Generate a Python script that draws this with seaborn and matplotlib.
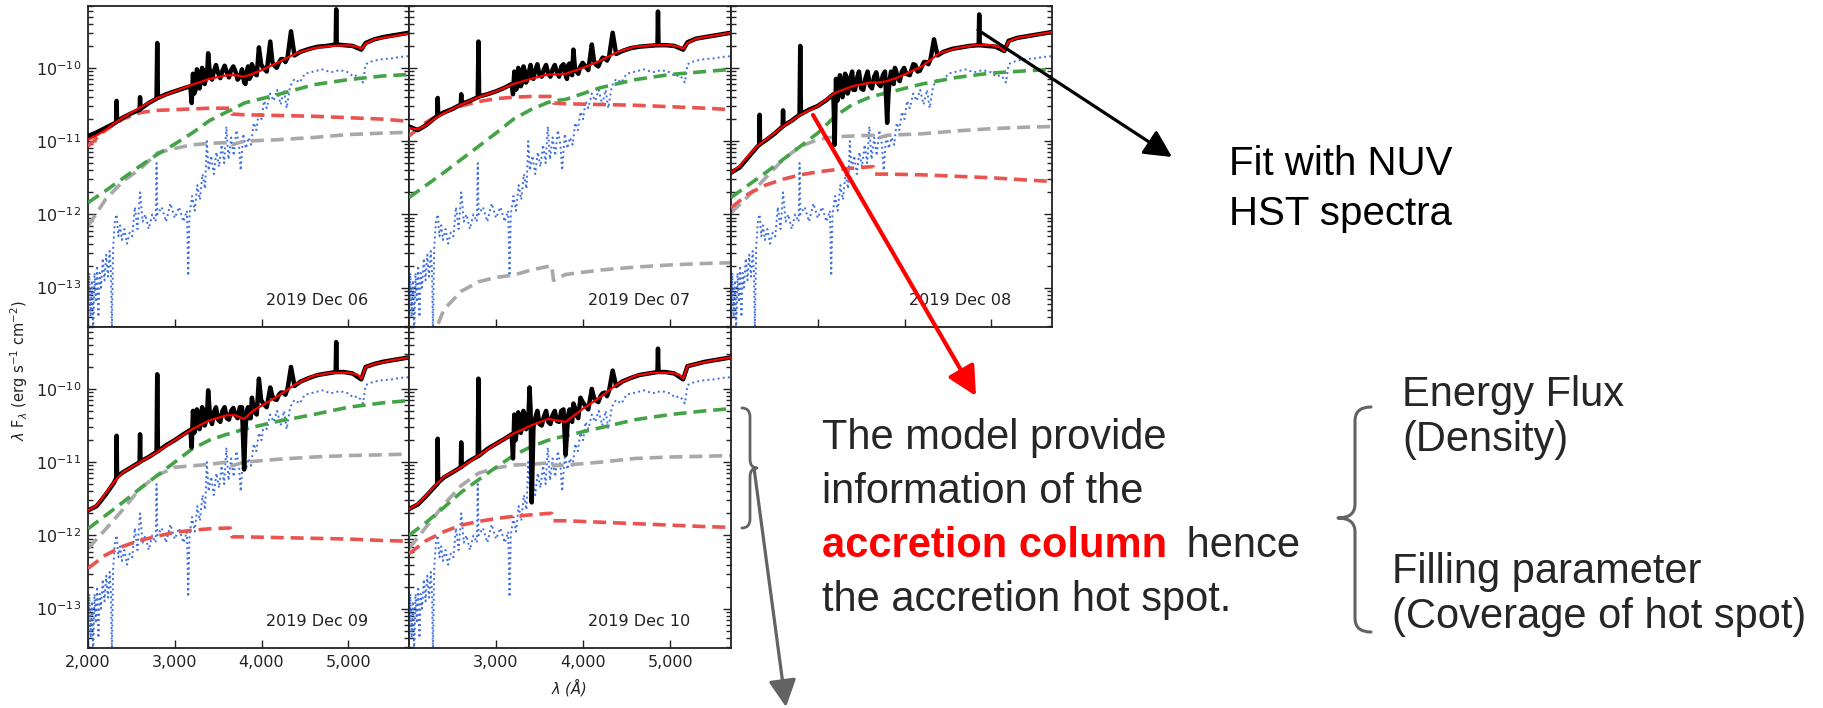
import numpy as np
import matplotlib
matplotlib.use("Agg")
import matplotlib.pyplot as plt
from matplotlib.path import Path
from matplotlib.patches import PathPatch
from matplotlib.ticker import LogLocator, FuncFormatter, NullFormatter, FixedLocator
import seaborn as sns

# ---------------- data (log10 of lambda*F_lambda) ----------------
dates = ["2019 Dec 06", "2019 Dec 07", "2019 Dec 08", "2019 Dec 09", "2019 Dec 10"]

lam_obs = [2000, 2100, 2200, 2300, 2325, 2330, 2335, 2400, 2500, 2595, 2600,
           2605, 2700, 2790, 2798, 2806, 2900, 3000, 3100, 3180, 3195, 3210,
           3240, 3270, 3300, 3330, 3360, 3385, 3410, 3450, 3500, 3550, 3600,
           3650, 3700, 3750, 3800, 3830, 3860, 3889, 3920, 3970, 4020, 4101,
           4150, 4200, 4250, 4300, 4340, 4380, 4450, 4550, 4650, 4750, 4855,
           4861, 4867, 4950, 5050, 5150, 5200, 5300, 5400, 5500, 5600, 5700]

obs_06 = [-10.93, -10.88, -10.82, -10.76, -10.74, -10.45, -10.73, -10.68, -10.62, -10.57, -10.40,
          -10.56, -10.48, -10.42, -9.66, -10.41, -10.36, -10.32, -10.28, -10.25, -10.48, -10.08,
          -10.30, -10.06, -10.18, -10.05, -10.14, -9.80, -10.10, -10.05, -10.07, -10.04, -10.06,
          -10.03, -10.05, -10.12, -10.20, -10.05, -10.15, -9.95, -10.08, -9.72, -10.00, -9.64,
          -9.97, -9.93, -9.88, -9.86, -9.50, -9.83, -9.78, -9.74, -9.71, -9.70, -9.68,
          -9.20, -9.68, -9.69, -9.70, -9.75, -9.66, -9.61, -9.58, -9.56, -9.54, -9.52]
obs_07 = [-10.80, -10.85, -10.78, -10.68, -10.66, -10.41, -10.65, -10.61, -10.56, -10.50, -10.36,
          -10.49, -10.45, -10.40, -9.64, -10.39, -10.36, -10.32, -10.27, -10.22, -10.36, -10.05,
          -10.28, -10.06, -10.20, -10.04, -10.16, -10.02, -10.12, -10.03, -10.10, -10.02, -10.08,
          -10.02, -10.06, -9.98, -10.10, -9.96, -10.08, -9.75, -10.04, -9.98, -9.97, -9.68,
          -9.96, -9.91, -9.87, -9.84, -9.52, -9.81, -9.77, -9.73, -9.71, -9.70, -9.69,
          -9.23, -9.69, -9.69, -9.70, -9.75, -9.65, -9.60, -9.58, -9.56, -9.54, -9.52]
obs_08 = [-11.43, -11.36, -11.22, -11.08, -11.05, -10.64, -11.04, -10.99, -10.90, -10.80, -10.58,
          -10.79, -10.72, -10.64, -9.70, -10.63, -10.57, -10.52, -10.44, -10.36, -11.05, -10.15,
          -10.35, -10.18, -10.30, -10.12, -10.28, -10.10, -10.30, -10.15, -10.28, -10.14, -10.24,
          -10.12, -10.22, -10.10, -10.75, -10.15, -10.20, -10.00, -10.14, -10.05, -10.08, -9.95,
          -10.05, -9.98, -9.92, -9.88, -9.61, -9.83, -9.78, -9.74, -9.72, -9.70, -9.69,
          -9.27, -9.69, -9.70, -9.71, -9.77, -9.63, -9.59, -9.57, -9.55, -9.53, -9.51]
obs_09 = [-11.66, -11.60, -11.45, -11.28, -11.22, -10.64, -11.20, -11.14, -11.07, -11.00, -10.62,
          -10.99, -10.93, -10.86, -9.80, -10.85, -10.77, -10.70, -10.62, -10.56, -10.80, -10.30,
          -10.52, -10.32, -10.48, -10.30, -10.44, -10.02, -10.42, -10.32, -10.42, -10.30, -10.40,
          -10.30, -10.36, -10.25, -11.10, -10.30, -10.40, -10.12, -10.32, -9.86, -10.20, -9.98,
          -10.14, -10.08, -10.05, -10.00, -9.70, -9.96, -9.90, -9.85, -9.81, -9.79, -9.77,
          -9.36, -9.77, -9.77, -9.79, -9.87, -9.70, -9.66, -9.63, -9.61, -9.59, -9.57]
obs_10 = [-11.64, -11.58, -11.46, -11.33, -11.30, -10.68, -11.28, -11.21, -11.14, -11.07, -10.73,
          -11.06, -10.98, -10.92, -9.86, -10.91, -10.82, -10.75, -10.68, -10.62, -10.95, -10.35,
          -10.55, -10.38, -10.52, -10.36, -10.50, -9.98, -11.55, -10.40, -10.48, -10.38, -10.45,
          -10.36, -10.44, -10.30, -10.90, -10.35, -10.42, -10.20, -10.35, -10.12, -10.22, -10.00,
          -10.16, -10.10, -10.05, -10.02, -9.75, -9.96, -9.90, -9.85, -9.81, -9.79, -9.77,
          -9.45, -9.77, -9.77, -9.79, -9.87, -9.69, -9.66, -9.63, -9.61, -9.59, -9.57]

# extra samples of the noisy 3200-4300 A part of the observed spectra
lam_fill = [3225, 3255, 3285, 3315, 3345, 3372, 3397, 3430, 3475, 3525, 3575, 3625, 3675,
            3725, 3775, 3815, 3845, 3875, 3905, 3945, 3995, 4060, 4125, 4175, 4225, 4275]
fill_06 = [-10.35, -10.02, -10.28, -10.00, -10.22, -10.12, -9.98, -10.16, -9.96, -10.14, -9.97, -10.13, -9.98,
           -10.16, -10.02, -10.22, -9.98, -10.12, -10.00, -10.10, -9.95, -10.05, -9.92, -10.00, -9.88, -9.92]
fill_07 = [-10.30, -10.00, -10.25, -9.98, -10.20, -10.10, -9.96, -10.15, -9.95, -10.12, -9.96, -10.12, -9.96,
           -10.12, -9.95, -10.15, -9.94, -10.10, -9.98, -10.08, -9.93, -10.03, -9.90, -9.98, -9.86, -9.90]
fill_08 = [-10.45, -10.10, -10.40, -10.08, -10.35, -10.20, -10.05, -10.30, -10.05, -10.30, -10.05, -10.28, -10.06,
           -10.25, -10.05, -10.35, -10.05, -10.22, -10.05, -10.18, -10.00, -10.10, -9.96, -10.04, -9.92, -9.95]
fill_09 = [-10.60, -10.28, -10.55, -10.25, -10.50, -10.35, -10.22, -10.48, -10.25, -10.45, -10.25, -10.42, -10.26,
           -10.40, -10.25, -10.55, -10.25, -10.40, -10.22, -10.35, -10.15, -10.25, -10.10, -10.15, -10.05, -10.08]
fill_10 = [-10.70, -10.32, -10.60, -10.30, -10.55, -10.40, -10.28, -10.52, -10.30, -10.50, -10.30, -10.48, -10.30,
           -10.45, -10.28, -10.60, -10.28, -10.45, -10.25, -10.40, -10.18, -10.28, -10.12, -10.18, -10.06, -10.10]

lam_tot = [2000, 2100, 2200, 2300, 2400, 2600, 2800, 3000, 3200, 3400, 3600, 3700, 3800,
           3900, 4000, 4200, 4400, 4600, 4800, 5000, 5100, 5150, 5200, 5300, 5500, 5700]
tot_06 = [-10.98, -10.92, -10.85, -10.76, -10.68, -10.54, -10.41, -10.32, -10.23, -10.15, -10.10, -10.10, -10.12,
          -10.08, -10.03, -9.92, -9.80, -9.73, -9.70, -9.69, -9.71, -9.74, -9.67, -9.61, -9.57, -9.53]
tot_07 = [-10.82, -10.84, -10.78, -10.69, -10.62, -10.50, -10.40, -10.32, -10.22, -10.15, -10.09, -10.09, -10.08,
          -10.04, -10.00, -9.90, -9.78, -9.71, -9.69, -9.69, -9.71, -9.74, -9.66, -9.60, -9.56, -9.52]
tot_08 = [-11.43, -11.34, -11.20, -11.07, -10.98, -10.80, -10.64, -10.52, -10.34, -10.25, -10.20, -10.20, -10.18,
          -10.14, -10.09, -9.98, -9.80, -9.73, -9.69, -9.69, -9.72, -9.77, -9.64, -9.59, -9.55, -9.51]
tot_09 = [-11.66, -11.59, -11.43, -11.27, -11.14, -11.00, -10.86, -10.70, -10.55, -10.43, -10.36, -10.36, -10.41,
          -10.30, -10.23, -10.09, -9.93, -9.82, -9.78, -9.78, -9.80, -9.86, -9.70, -9.66, -9.61, -9.57]
tot_10 = [-11.64, -11.57, -11.45, -11.32, -11.20, -11.07, -10.91, -10.75, -10.61, -10.50, -10.41, -10.43, -10.45,
          -10.36, -10.27, -10.11, -9.93, -9.82, -9.78, -9.78, -9.80, -9.86, -9.69, -9.66, -9.61, -9.57]

lam_dash = [2000, 2200, 2400, 2600, 2800, 3000, 3200, 3400, 3600, 3640, 3660, 3800, 4200, 4600, 5000, 5400, 5700]
hot_06 = [-11.07, -10.85, -10.70, -10.61, -10.58, -10.57, -10.56, -10.55, -10.55, -10.55, -10.63, -10.64, -10.65, -10.66, -10.68, -10.70, -10.73]
hot_07 = [-10.93, -10.74, -10.60, -10.52, -10.46, -10.42, -10.40, -10.39, -10.39, -10.39, -10.48, -10.49, -10.50, -10.51, -10.53, -10.55, -10.57]
hot_08 = [-11.91, -11.72, -11.60, -11.52, -11.46, -11.42, -11.39, -11.37, -11.35, -11.35, -11.45, -11.45, -11.46, -11.48, -11.50, -11.53, -11.55]
hot_09 = [-12.45, -12.27, -12.15, -12.07, -12.01, -11.96, -11.93, -11.91, -11.90, -11.90, -12.02, -12.02, -12.03, -12.04, -12.05, -12.07, -12.08]
hot_10 = [-12.25, -12.07, -11.95, -11.86, -11.81, -11.77, -11.74, -11.72, -11.70, -11.70, -11.80, -11.80, -11.82, -11.84, -11.86, -11.88, -11.89]

green_06 = [-11.84, -11.68, -11.51, -11.34, -11.18, -11.04, -10.89, -10.72, -10.60, -10.58, -10.57, -10.48, -10.36, -10.23, -10.16, -10.11, -10.09]
green_07 = [-11.77, -11.60, -11.43, -11.25, -11.07, -10.89, -10.70, -10.57, -10.47, -10.46, -10.45, -10.43, -10.27, -10.16, -10.09, -10.05, -10.02]
green_08 = [-11.77, -11.60, -11.43, -11.25, -11.07, -10.89, -10.66, -10.50, -10.40, -10.39, -10.38, -10.34, -10.22, -10.13, -10.07, -10.04, -10.02]
green_09 = [-11.91, -11.73, -11.55, -11.36, -11.18, -11.00, -10.82, -10.70, -10.62, -10.61, -10.60, -10.55, -10.44, -10.35, -10.25, -10.19, -10.16]
green_10 = [-12.00, -11.82, -11.62, -11.41, -11.24, -11.07, -10.91, -10.79, -10.70, -10.69, -10.68, -10.64, -10.53, -10.42, -10.35, -10.30, -10.27]

gray_06 = [-12.16, -11.80, -11.55, -11.38, -11.16, -11.10, -11.05, -11.03, -11.02, -11.01, -11.05, -11.00, -10.98, -10.95, -10.91, -10.89, -10.88]
gray_07 = [-14.50, -13.90, -13.30, -13.05, -12.92, -12.86, -12.83, -12.76, -12.71, -12.70, -12.90, -12.82, -12.76, -12.72, -12.69, -12.67, -12.66]
gray_08 = [-11.98, -11.75, -11.50, -11.25, -11.07, -10.98, -10.94, -10.93, -10.92, -10.92, -10.97, -10.92, -10.90, -10.86, -10.83, -10.81, -10.80]
gray_09 = [-12.18, -11.92, -11.65, -11.36, -11.18, -11.07, -11.05, -11.03, -11.00, -11.00, -11.05, -11.00, -10.96, -10.93, -10.91, -10.90, -10.89]
gray_10 = [-12.18, -11.88, -11.58, -11.32, -11.15, -11.08, -11.04, -11.03, -11.01, -11.00, -11.05, -11.04, -11.00, -10.95, -10.93, -10.92, -10.91]

blue_lam = [2000, 2015, 2030, 2045, 2060, 2075, 2090, 2105, 2120, 2135,
            2150, 2170, 2190, 2210, 2230, 2250, 2265, 2275, 2290, 2310,
            2330, 2350, 2370, 2390, 2420, 2450, 2480, 2510, 2540, 2570,
            2600, 2630, 2660, 2700, 2740, 2780, 2790, 2800, 2850, 2900,
            2950, 3000, 3050, 3100, 3140, 3155, 3170, 3200, 3230, 3260,
            3290, 3320, 3350, 3370, 3390, 3420, 3450, 3480, 3510, 3540,
            3570, 3595, 3620, 3650, 3680, 3710, 3740, 3760, 3790, 3820,
            3850, 3880, 3910, 3940, 3970, 4000, 4030, 4060, 4100, 4140,
            4180, 4220, 4260, 4290, 4330, 4380, 4440, 4500, 4600, 4700,
            4800, 4900, 5000, 5060, 5100, 5140, 5170, 5200, 5250, 5300,
            5400, 5500, 5600, 5700]
blue_log = [-13.5, -12.8, -13.4, -12.9, -13.6, -12.8, -13.2, -12.7, -13.4, -12.8,
            -13.0, -12.6, -12.9, -12.55, -12.85, -12.5, -12.8, -13.6, -12.45, -12.1,
            -12.0, -12.3, -12.15, -12.35, -12.2, -12.4, -12.25, -12.3, -11.9, -12.2,
            -11.7, -12.1, -12.0, -12.2, -12.0, -12.1, -11.3, -12.0, -11.9, -12.1,
            -11.85, -12.05, -11.9, -12.1, -11.95, -12.84, -12.0, -11.75, -11.95, -11.6,
            -11.8, -11.45, -11.65, -11.0, -11.4, -11.2, -11.45, -11.15, -11.35, -11.05,
            -11.3, -10.8, -11.25, -10.95, -11.2, -10.85, -11.05, -11.4, -10.9, -11.1,
            -10.95, -11.05, -10.75, -10.85, -10.6, -10.7, -10.45, -10.55, -10.35, -10.45,
            -10.3, -10.5, -10.3, -10.55, -10.25, -10.15, -10.2, -10.08, -10.05, -10.02,
            -10.06, -10.03, -10.06, -10.12, -10.1, -10.14, -10.2, -9.95, -9.92, -9.9,
            -9.88, -9.87, -9.85, -9.84]

xtick_vals = [2000, 3000, 4000, 5000]
ytick_vals = [1e-13, 1e-12, 1e-11, 1e-10]

obs_all = [obs_06, obs_07, obs_08, obs_09, obs_10]
fill_all = [fill_06, fill_07, fill_08, fill_09, fill_10]
tot_all = [tot_06, tot_07, tot_08, tot_09, tot_10]
hot_all = [hot_06, hot_07, hot_08, hot_09, hot_10]
green_all = [green_06, green_07, green_08, green_09, green_10]
gray_all = [gray_06, gray_07, gray_08, gray_09, gray_10]

# ---------------- figure ----------------
sns.set_style("ticks")
plt.rcParams["font.family"] = ["DejaVu Sans"]
plt.rcParams["mathtext.fontset"] = "dejavusans"

W, H = 1823, 708
fig = plt.figure(figsize=(W / 100, H / 100), dpi=100)
fig.patch.set_facecolor("white")

cols = [(88, 409), (409, 731), (731, 1052)]
rows = [(6, 327), (327, 648)]
slots = [(0, 0), (0, 1), (0, 2), (1, 0), (1, 1)]


def rect(x0, x1, y0, y1):
    return [x0 / W, 1 - y1 / H, (x1 - x0) / W, (y1 - y0) / H]


dash = (0, (3.6, 1.9))
for i, (r, c) in enumerate(slots):
    ax = fig.add_axes(rect(cols[c][0], cols[c][1], rows[r][0], rows[r][1]))
    # observed spectrum: all typed samples merged in wavelength order
    lam_all = np.array(lam_obs + lam_fill)
    val_all = np.array(obs_all[i] + fill_all[i])
    order = np.argsort(lam_all, kind="stable")

    sns.lineplot(x=blue_lam, y=10 ** np.array(blue_log), ax=ax, color="#3f6fe0",
                 linewidth=1.4, linestyle=":", zorder=1, estimator=None, sort=False)
    sns.lineplot(x=lam_dash, y=10 ** np.array(gray_all[i]), ax=ax, color="#a8a8a8",
                 linewidth=2.6, linestyle=dash, zorder=2, estimator=None, sort=False)
    sns.lineplot(x=lam_dash, y=10 ** np.array(green_all[i]), ax=ax, color="#45a347",
                 linewidth=2.6, linestyle=dash, zorder=3, estimator=None, sort=False)
    sns.lineplot(x=lam_dash, y=10 ** np.array(hot_all[i]), ax=ax, color="#ea5450",
                 linewidth=2.6, linestyle=dash, zorder=4, estimator=None, sort=False)
    sns.lineplot(x=lam_all[order], y=10 ** val_all[order], ax=ax, color="black",
                 linewidth=3.2, zorder=5, estimator=None, sort=False)
    sns.lineplot(x=lam_tot, y=10 ** np.array(tot_all[i]), ax=ax, color="#ff0000",
                 linewidth=1.6, zorder=6, estimator=None, sort=False)

    ax.set_yscale("log")
    ax.set_xlim(2000, 5700)
    ax.set_ylim(2.9e-14, 7.0e-10)
    ax.yaxis.set_major_locator(FixedLocator(ytick_vals))
    ax.yaxis.set_minor_locator(LogLocator(base=10, subs=np.arange(2, 10), numticks=40))
    ax.yaxis.set_minor_formatter(NullFormatter())
    ax.set_xticks(xtick_vals if c == 0 else xtick_vals[1:])
    ax.xaxis.set_major_formatter(FuncFormatter(lambda v, p: f"{v:,.0f}"))
    ax.set_xlabel("")
    ax.set_ylabel("")
    ax.tick_params(which="both", direction="in", top=False, right=True,
                   labelsize=11.5, colors="#222222", width=1.0)
    ax.tick_params(which="major", length=6, pad=5)
    ax.tick_params(which="minor", length=3.5)
    if c != 0:
        ax.tick_params(labelleft=False)
    if r == 0:
        ax.tick_params(labelbottom=False)
    for s in ax.spines.values():
        s.set_linewidth(1.3)
        s.set_color("#222222")
    ax.text(0.714, 0.084, dates[i], transform=ax.transAxes, ha="center", va="center",
            fontsize=11.5, color="#222222")

fig.text(19 / W, 1 - 371 / H, r"$\lambda$ F$_\lambda$ (erg s$^{-1}$ cm$^{-2}$)",
         rotation=90, ha="center", va="center", fontsize=10.5, color="#222222")
fig.text(569 / W, 1 - 687 / H, r"$\lambda$ ($\AA$)", ha="center", va="center",
         fontsize=10.5, color="#222222", style="italic")

# ---------------- slide annotations (pixel overlay) ----------------
ov = fig.add_axes([0, 0, 1, 1], zorder=20)
ov.set_xlim(0, W)
ov.set_ylim(H, 0)
ov.axis("off")
ov.patch.set_alpha(0)

FAM = ["Liberation Sans", "DejaVu Sans"]


def brace(x_end, x_v, x_tip, y_top, y_tip, y_bot, rr, color, lw):
    verts = [(x_end, y_top), (x_v, y_top), (x_v, y_top + rr),
             (x_v, y_tip - rr), (x_v, y_tip), (x_tip, y_tip),
             (x_v, y_tip), (x_v, y_tip + rr),
             (x_v, y_bot - rr), (x_v, y_bot), (x_end, y_bot)]
    codes = [Path.MOVETO, Path.CURVE3, Path.CURVE3,
             Path.LINETO, Path.CURVE3, Path.CURVE3,
             Path.CURVE3, Path.CURVE3,
             Path.LINETO, Path.CURVE3, Path.CURVE3]
    ov.add_patch(PathPatch(Path(verts, codes), fill=False, edgecolor=color, lw=lw,
                           capstyle="round", joinstyle="round"))


def arrow(x0, y0, x1, y1, color, lw, ms):
    ov.annotate("", xy=(x1, y1), xytext=(x0, y0),
                arrowprops=dict(arrowstyle="-|>,head_length=0.55,head_width=0.28",
                                color=color, lw=lw, mutation_scale=ms,
                                shrinkA=0, shrinkB=0))


# arrows
arrow(978, 30, 1172, 157, "black", 2.3, 30)
arrow(813, 115, 976, 396, "#ff0000", 3.0, 32)
arrow(754, 468, 786, 707, "#636363", 2.3, 30)

# braces
brace(742, 750, 757, 408, 468, 528, 9, "#636363", 2.0)
brace(1371, 1355, 1338, 407, 518, 632, 14, "#636363", 2.2)

# texts
ov.text(1229, 175, "Fit with NUV", fontsize=29, family=FAM, va="baseline", ha="left", color="black")
ov.text(1229, 225, "HST spectra", fontsize=29, family=FAM, va="baseline", ha="left", color="black")

FS = 30
ov.text(822, 449, "The model provide", fontsize=FS, family=FAM, va="baseline", ha="left")
ov.text(822, 503, "information of the", fontsize=FS, family=FAM, va="baseline", ha="left")
t1 = ov.text(822, 557, "accretion column", fontsize=FS, family=FAM, va="baseline", ha="left",
             color="#ff0000", fontweight="bold")
ov.annotate(" hence", xy=(1, 0), xycoords=t1, xytext=(6, 0), textcoords="offset points",
            va="bottom", ha="left", fontsize=FS, family=FAM)
ov.text(822, 611, "the accretion hot spot.", fontsize=FS, family=FAM, va="baseline", ha="left")

FR = 30
ov.text(1402, 406, "Energy Flux", fontsize=FR, family=FAM, va="baseline", ha="left")
ov.text(1402, 451, "(Density)", fontsize=FR, family=FAM, va="baseline", ha="left")
ov.text(1392, 583, "Filling parameter", fontsize=FR, family=FAM, va="baseline", ha="left")
ov.text(1392, 628, "(Coverage of hot spot)", fontsize=FR, family=FAM, va="baseline", ha="left")

fig.savefig("out.png", dpi=100, facecolor="white")
